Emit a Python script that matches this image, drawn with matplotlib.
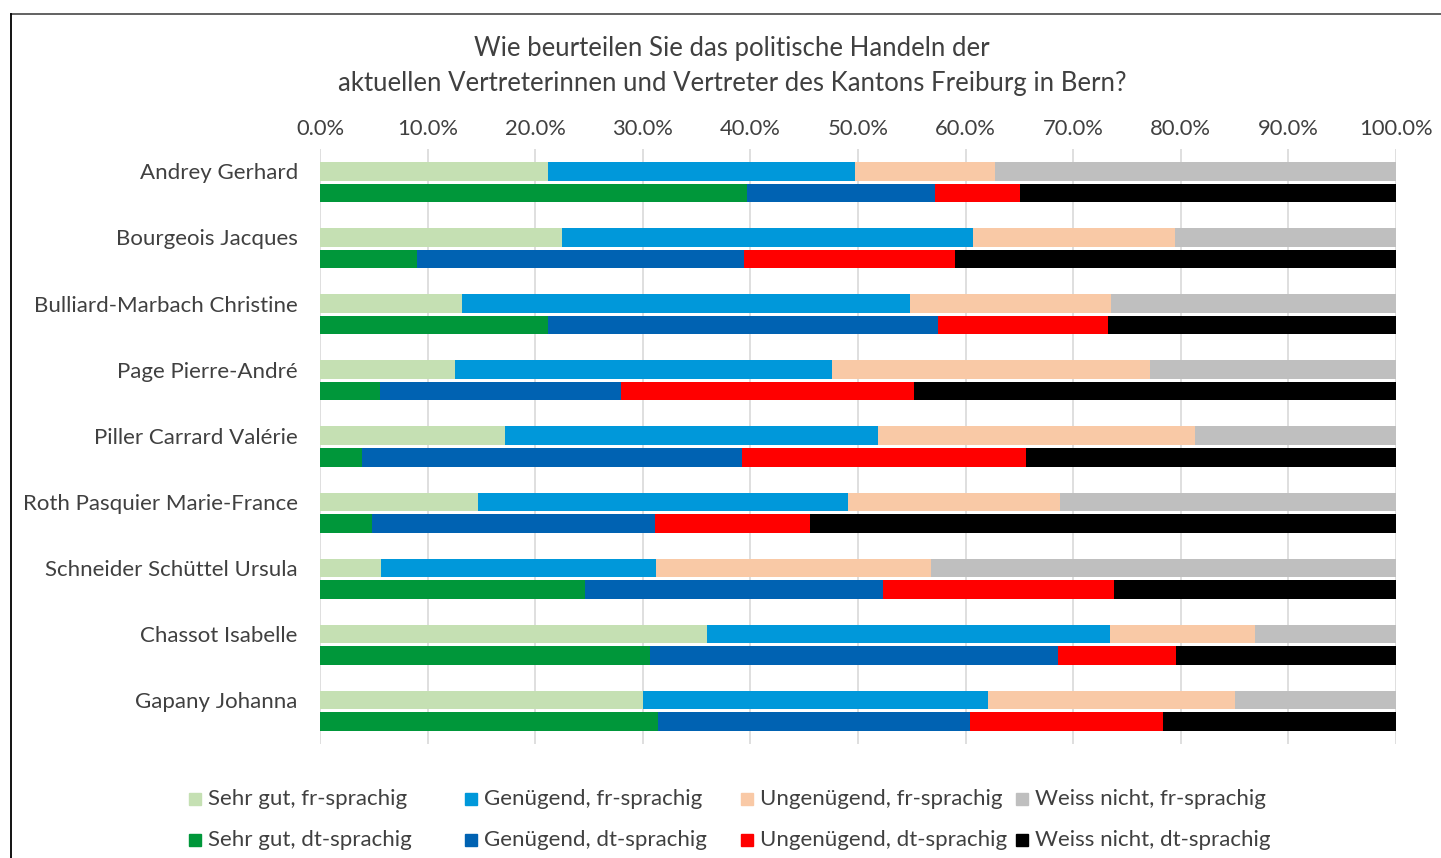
import matplotlib
matplotlib.use("Agg")
import matplotlib.pyplot as plt
from matplotlib.patches import Rectangle
from matplotlib.lines import Line2D
import numpy as np

plt.rcParams['font.family'] = ['Lato', 'DejaVu Sans']

title = "Wie beurteilen Sie das politische Handeln der\naktuellen Vertreterinnen und Vertreter des Kantons Freiburg in Bern?"

names = ["Andrey Gerhard", "Bourgeois Jacques", "Bulliard-Marbach Christine",
         "Page Pierre-André", "Piller Carrard Valérie", "Roth Pasquier Marie-France",
         "Schneider Schüttel Ursula", "Chassot Isabelle", "Gapany Johanna"]

categories = ["Sehr gut", "Genügend", "Ungenügend", "Weiss nicht"]

# values in percent
fr_sehr_gut    = [21.2, 22.5, 13.2, 12.5, 17.2, 14.7, 5.7, 36.0, 30.0]
fr_genuegend   = [28.5, 38.2, 41.6, 35.1, 34.7, 34.4, 25.5, 37.4, 32.1]
fr_ungenuegend = [13.0, 18.8, 18.7, 29.5, 29.4, 19.7, 25.6, 13.5, 22.9]
fr_weiss_nicht = [37.3, 20.5, 26.5, 22.9, 18.7, 31.2, 43.2, 13.1, 15.0]

dt_sehr_gut    = [39.7, 9.0, 21.2, 5.6, 3.9, 4.8, 24.6, 30.7, 31.4]
dt_genuegend   = [17.5, 30.4, 36.2, 22.4, 35.3, 26.3, 27.7, 37.9, 29.0]
dt_ungenuegend = [7.9, 19.6, 15.8, 27.2, 26.4, 14.4, 21.5, 11.0, 17.9]
dt_weiss_nicht = [34.9, 41.0, 26.8, 44.8, 34.4, 54.5, 26.2, 20.4, 21.7]

x_ticks = [0, 10, 20, 30, 40, 50, 60, 70, 80, 90, 100]

fr_series = [fr_sehr_gut, fr_genuegend, fr_ungenuegend, fr_weiss_nicht]
dt_series = [dt_sehr_gut, dt_genuegend, dt_ungenuegend, dt_weiss_nicht]
fr_colors = ["#C5E0B3", "#0098DA", "#F9C9A6", "#BFBFBF"]
dt_colors = ["#00973A", "#0062B2", "#FF0000", "#000000"]

W, H = 1441, 858
fig = plt.figure(figsize=(W / 100, H / 100), dpi=100)
ax = fig.add_axes([320 / W, 1 - 744 / H, (1396 - 320) / W, (744 - 149) / H])

y = np.arange(len(names))
off = 0.163
bh = 0.28
txt = "#404040"

left = np.zeros(len(names))
for vals, col in zip(fr_series, fr_colors):
    ax.barh(y - off, vals, left=left, height=bh, color=col, edgecolor="none", zorder=3)
    left += np.array(vals)
left = np.zeros(len(names))
for vals, col in zip(dt_series, dt_colors):
    ax.barh(y + off, vals, left=left, height=bh, color=col, edgecolor="none", zorder=3)
    left += np.array(vals)

ax.set_xlim(0, 100)
ax.set_ylim(len(names) - 0.5, -0.5)
ax.xaxis.tick_top()
ax.set_xticks(x_ticks)
ax.set_xticklabels([f"{v:.1f}%" for v in x_ticks], fontsize=15.8, color=txt)
ax.set_yticks(y - off)
ax.set_yticklabels(names, fontsize=16, color=txt)
ax.tick_params(axis="x", length=0, pad=7)
ax.tick_params(axis="y", length=0, pad=16)
ax.grid(axis="x", color="#D9D9D9", linewidth=1.2, zorder=0)
for s in ax.spines.values():
    s.set_visible(False)

fig.text(732 / W, 1 - 66 / H, title, ha="center", va="center", fontsize=18.5,
         color=txt, linespacing=1.5)

# legend (manual, Excel-like equal columns)
col_x = [189, 465, 741, 1016]
row_y = [799, 840]
for r, (cols, grp) in enumerate([(fr_colors, "fr-sprachig"), (dt_colors, "dt-sprachig")]):
    for c in range(4):
        fig.patches.append(Rectangle((col_x[c] / W, 1 - (row_y[r] + 6) / H), 12 / W, 12 / H,
                                     transform=fig.transFigure, color=cols[c]))
        fig.text((col_x[c] + 19) / W, 1 - row_y[r] / H, f"{categories[c]}, {grp}",
                 ha="left", va="center", fontsize=16, color=txt)

# frame lines
fig.add_artist(Line2D([11 / W, 1], [1 - 14 / H, 1 - 14 / H], color="#555555", lw=1.3,
                      transform=fig.transFigure))
fig.add_artist(Line2D([11 / W, 11 / W], [1 - 14 / H, 0], color="#000000", lw=1.3,
                      transform=fig.transFigure))

fig.savefig("out.png", dpi=100)
